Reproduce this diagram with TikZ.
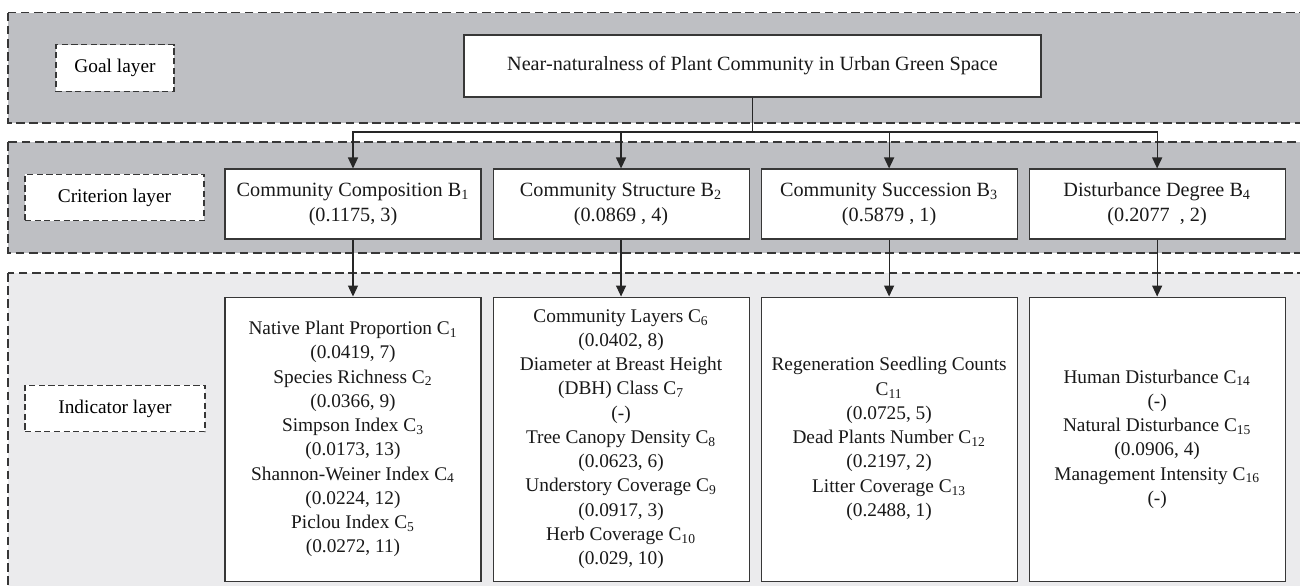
\documentclass[tikz,border=0pt]{standalone}
\usepackage{fontspec}
\setmainfont{Liberation Serif}
\usepackage{xcolor}
\usepackage{tikz}
\usetikzlibrary{arrows.meta,positioning,calc}

\definecolor{layergray}{RGB}{190,191,195}
\definecolor{layerlight}{RGB}{235,235,237}
\definecolor{edgegray}{RGB}{55,55,55}

\tikzset{
  layer/.style={draw=edgegray, dash pattern=on 5pt off 2.5pt, line width=0.6pt},
  tag/.style={draw=edgegray, fill=white, dash pattern=on 3.5pt off 2pt, line width=0.6pt,
    minimum height=0.93cm, font=\fontsize{11}{13.8}\selectfont},
  box/.style={draw=edgegray, fill=white, line width=0.6pt, align=center, inner sep=2pt,
    text=black!90, font=\fontsize{11}{13.8}\selectfont},
  crit/.style={box, minimum width=5.12cm, minimum height=1.4cm, font=\fontsize{11.5}{14.2}\selectfont},
  indic/.style={box, minimum width=5.12cm, minimum height=5.68cm},
  flow/.style={-{Stealth[length=2.2mm,width=2mm,inset=0pt]}, line width=0.7pt, black!85}
}

\begin{document}
\begin{tikzpicture}

\useasboundingbox (0,0) rectangle (26,-11.72);
\clip (0,0) rectangle (26,-11.72);

% Layers
\draw[layer, fill=layergray] (0.16,-0.25) rectangle (26.5,-2.46);
\draw[layer, fill=layergray] (0.16,-2.84) rectangle (26.5,-5.06);
\draw[layer, fill=layerlight] (0.16,-5.46) rectangle (26.5,-12);

\node[tag, minimum width=2.36cm] (goaltag) at (2.3,-1.36) {Goal layer};
\node[tag, minimum width=3.58cm] (crittag) at (2.29,-3.95) {Criterion layer};
\node[tag, minimum width=3.6cm] (indtag) at (2.3,-8.17) {Indicator layer};

% Goal
\node[box, minimum width=11.54cm, minimum height=1.24cm, font=\fontsize{11.5}{14.2}\selectfont]
  (goal) at (15.05,-1.32) {Near-naturalness of Plant Community in Urban Green Space};
\coordinate (bus) at (15.05,-2.64);

% Criteria
\node[crit] (b1) at (7.06,-4.08) {Community Composition B\textsubscript{1}\\(0.1175, 3)};
\node[crit, right=0.22cm of b1] (b2) {Community Structure B\textsubscript{2}\\(0.0869 , 4)};
\node[crit, right=0.22cm of b2] (b3) {Community Succession B\textsubscript{3}\\(0.5879 , 1)};
\node[crit, right=0.22cm of b3] (b4) {Disturbance Degree B\textsubscript{4}\\(0.2077 \ , 2)};

% Indicators
\node[indic, below=1.14cm of b1] (c1) {Native Plant Proportion C\textsubscript{1}\\(0.0419, 7)\\
  Species Richness C\textsubscript{2}\\(0.0366, 9)\\Simpson Index C\textsubscript{3}\\(0.0173, 13)\\
  Shannon-Weiner Index C\textsubscript{4}\\(0.0224, 12)\\Piclou Index C\textsubscript{5}\\(0.0272, 11)};
\node[indic, below=1.14cm of b2] (c2) {Community Layers C\textsubscript{6}\\(0.0402, 8)\\
  Diameter at Breast Height\\(DBH) Class C\textsubscript{7}\\(-)\\Tree Canopy Density C\textsubscript{8}\\
  (0.0623, 6)\\Understory Coverage C\textsubscript{9}\\(0.0917, 3)\\Herb Coverage C\textsubscript{10}\\(0.029, 10)};
\node[indic, below=1.14cm of b3] (c3) {Regeneration Seedling Counts\\C\textsubscript{11}\\(0.0725, 5)\\
  Dead Plants Number C\textsubscript{12}\\(0.2197, 2)\\Litter Coverage C\textsubscript{13}\\(0.2488, 1)};
\node[indic, below=1.14cm of b4] (c4) {Human Disturbance C\textsubscript{14}\\(-)\\
  Natural Disturbance C\textsubscript{15}\\(0.0906, 4)\\Management Intensity C\textsubscript{16}\\(-)};

% Flow arrows
\foreach \b in {b1,b2,b3,b4}
  \draw[flow] (goal.south) |- (bus -| \b.north) -- (\b.north);
\foreach \b/\c in {b1/c1,b2/c2,b3/c3,b4/c4}
  \draw[flow] (\b.south) -- (\c.north);

\end{tikzpicture}
\end{document}
